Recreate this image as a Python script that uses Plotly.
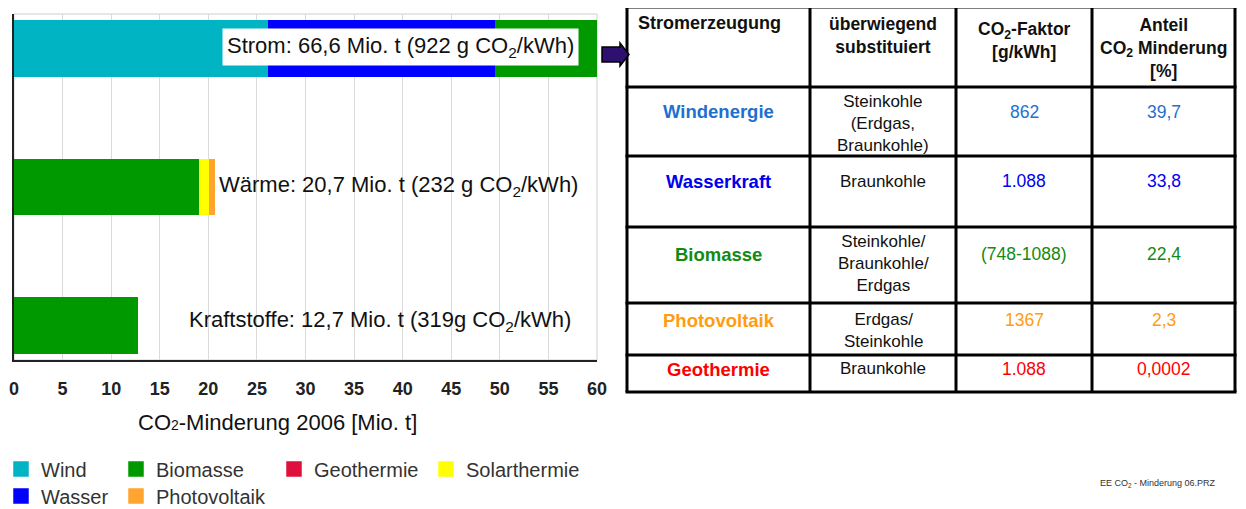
import plotly.graph_objects as go

W, H = 1246, 509
OFF = 8  # the page puts the figure 8px in from the top-left corner

# CO2-Minderung 2006 durch erneuerbare Energien [Mio. t]
sectors = ["Strom", "Wärme", "Kraftstoffe"]
wind = [26.3, None, None]
wasser = [23.4, None, None]
biomasse = [15.3, 19.2, 12.6]
solarthermie = [None, 1.0, None]
photovoltaik = [1.5, 0.3, None]
geothermie = [0.0002, None, None]

sector_labels = [
    "Strom: 66,6 Mio. t (922 g CO<sub>2</sub>/kWh)",
    "Wärme: 20,7 Mio. t (232 g CO<sub>2</sub>/kWh)",
    "Kraftstoffe: 12,7 Mio. t (319g CO<sub>2</sub>/kWh)",
]
x_ticks = [0, 5, 10, 15, 20, 25, 30, 35, 40, 45, 50, 55, 60]

# Tabelle Stromerzeugung
table_header = [
    "<b>Stromerzeugung</b>",
    "<b>überwiegend<br>substituiert</b>",
    "<b>CO<sub>2</sub>-Faktor<br>[g/kWh]</b>",
    "<b>Anteil<br>CO<sub>2</sub> Minderung<br>[%]</b>",
]
sources = ["Windenergie", "Wasserkraft", "Biomasse", "Photovoltaik", "Geothermie"]
substituted = [
    "Steinkohle<br>(Erdgas,<br>Braunkohle)",
    "Braunkohle",
    "Steinkohle/<br>Braunkohle/<br>Erdgas",
    "Erdgas/<br>Steinkohle",
    "Braunkohle",
]
co2_factor = ["862", "1.088", "(748-1088)", "1367", "1.088"]
share_pct = ["39,7", "33,8", "22,4", "2,3", "0,0002"]

colors = {
    "Wind": "#00B4C4",
    "Wasser": "#0000FF",
    "Biomasse": "#009900",
    "Geothermie": "#E0103C",
    "Solarthermie": "#FFFF00",
    "Photovoltaik": "#FFA52F",
}
row_colors = ["#1E70D0", "#0000EE", "#138A13", "#FF9C10", "#FF0000"]

FONT = "Arial, Liberation Sans, sans-serif"


def px(x):
    return (x - OFF) / W


def py(y):
    return 1 - (y - OFF) / H


fig = go.Figure()

series = [
    ("Wind", wind, "legend"),
    ("Wasser", wasser, "legend5"),
    ("Biomasse", biomasse, "legend2"),
    ("Solarthermie", solarthermie, "legend4"),
    ("Photovoltaik", photovoltaik, "legend6"),
    ("Geothermie", geothermie, "legend3"),
]
for name, vals, leg in series:
    # same-colour outline: makes the legend squares bigger
    fig.add_trace(go.Bar(
        y=sectors, x=vals, name=name, orientation="h", width=0.385,
        marker=dict(color=colors[name], line=dict(color=colors[name], width=3.5)),
        legend=leg,
    ))

# one legend box per entry so the two rows line up like the original
legend_pos = {
    "legend": (41, 469), "legend2": (156, 469), "legend3": (314, 469),
    "legend4": (466, 469), "legend5": (41, 496), "legend6": (156, 496),
}
legends = {}
for key, (tx, ty) in legend_pos.items():
    legends[key] = dict(
        x=px(tx - 40), y=py(ty), xanchor="left", yanchor="middle",
        bgcolor="rgba(0,0,0,0)", font=dict(size=20, color="#333", family=FONT),
    )


def note(x, y, text, size, color="#111", xanchor="center", **kw):
    return dict(x=px(x), y=py(y), xref="paper", yref="paper", text=text,
                showarrow=False, xanchor=xanchor, yanchor="middle",
                font=dict(size=size, color=color, family=FONT), **kw)


annotations = []
label_pos = [(400, 47), (398, 186), (380, 321)]
for i, text in enumerate(sector_labels):
    ax, ay = label_pos[i]
    extra = dict(bgcolor="white", borderpad=4) if i == 0 else {}
    annotations.append(note(ax, ay, text, 22, **extra))

annotations.append(note(277, 422, "CO<span style='font-size:14px'>2</span>-Minderung 2006 [Mio. t]", 22))

# table geometry (pixels)
col_x = [627, 810, 956, 1092, 1235]
row_y = [7, 87, 156, 227, 303, 355, 392]
col_c = [(col_x[i] + col_x[i + 1]) / 2 for i in range(4)]

head_y = [23, 35, 40, 48]
for j, text in enumerate(table_header):
    if j == 0:
        annotations.append(note(636, head_y[j], text, 18, xanchor="left"))
    else:
        annotations.append(note(col_c[j], head_y[j], text, 17.5))

name_y = [112, 181, 254, 320, 369]
sub_y = [123, 181, 263, 330, 368]
for i in range(len(sources)):
    annotations.append(note(col_c[0], name_y[i], "<b>%s</b>" % sources[i], 18.5, row_colors[i]))
    annotations.append(note(col_c[1], sub_y[i], substituted[i], 17))
    annotations.append(note(col_c[2], name_y[i], co2_factor[i], 17.5, row_colors[i]))
    annotations.append(note(col_c[3], name_y[i], share_pct[i], 17.5, row_colors[i]))

annotations.append(note(1158, 483, "EE CO<sub>2</sub> - Minderung 06.PRZ", 9, "#333"))

shapes = []
for cx in col_x:
    shapes.append(dict(type="line", xref="paper", yref="paper",
                       x0=px(cx), x1=px(cx), y0=py(row_y[0]), y1=py(row_y[-1]),
                       line=dict(color="black", width=3)))
for ry in row_y:
    shapes.append(dict(type="line", xref="paper", yref="paper",
                       x0=px(col_x[0] - 1.5), x1=px(col_x[-1] + 1.5), y0=py(ry), y1=py(ry),
                       line=dict(color="black", width=3)))

# arrow pointing from the Strom bar to the table
arrow_pts = [(602, 47), (620, 47), (620, 43), (629, 54.5), (620, 66), (620, 62), (602, 62)]
path = "M " + " L ".join("%.5f,%.5f" % (px(a), py(b)) for a, b in arrow_pts) + " Z"
shapes.append(dict(type="path", xref="paper", yref="paper", path=path,
                   fillcolor="#2E1070", line=dict(color="black", width=1.5)))

# light frame around the plot area (top/right)
shapes.append(dict(type="rect", xref="x domain", yref="y domain", x0=0, x1=1, y0=0, y1=1,
                   line=dict(color="#cfcfcf", width=1), layer="below"))

fig.update_layout(
    width=W, height=H,
    margin=dict(l=0, r=0, t=0, b=0, autoexpand=False),
    paper_bgcolor="white", plot_bgcolor="white",
    barmode="stack",
    showlegend=True,
    annotations=annotations,
    shapes=shapes,
    font=dict(family=FONT),
    xaxis=dict(
        domain=[px(14), px(597)], range=[0, 60], tickvals=x_ticks,
        showgrid=True, gridcolor="#dadada", gridwidth=1, zeroline=False,
        showline=True, linecolor="#222", linewidth=2, automargin=False,
        ticks="outside", ticklen=11, tickcolor="rgba(0,0,0,0)",
        tickfont=dict(size=18, color="#222", family=FONT, weight="bold"),
    ),
    yaxis=dict(
        domain=[py(360), py(14)], type="category", range=[2.25, -0.25],
        showticklabels=False, showgrid=False, zeroline=False, automargin=False,
        showline=True, linecolor="#222", linewidth=2,
    ),
    **legends,
)

fig.write_html("out.html")
